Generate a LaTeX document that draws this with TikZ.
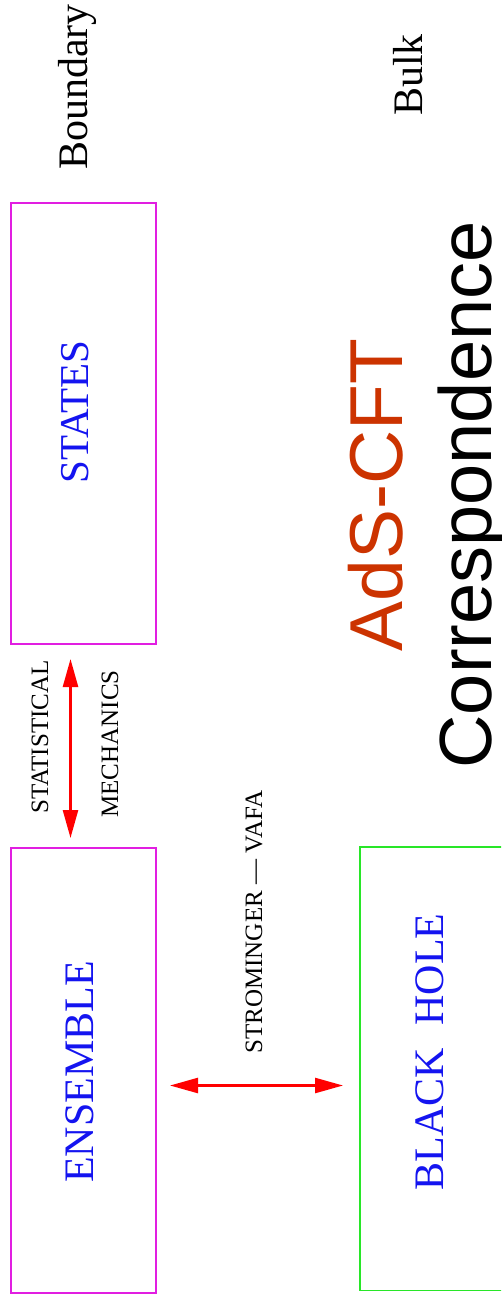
\documentclass[tikz,border=0pt]{standalone}
\usepackage{fontspec}
\setmainfont{Liberation Serif}
\newfontfamily\arialf{Liberation Sans}
\usetikzlibrary{arrows.meta}
\definecolor{boxmag}{RGB}{225,30,225}
\definecolor{boxgreen}{RGB}{40,230,40}
\definecolor{txtblue}{RGB}{20,20,240}
\definecolor{arrred}{RGB}{255,0,0}
\definecolor{adsred}{RGB}{204,51,0}
\begin{document}
\begin{tikzpicture}[x=1pt,y=-1pt,
  magbox/.style={draw=boxmag,line width=2pt,minimum width=145pt,inner sep=0pt,anchor=north west},
  lbl/.style={rotate=90,anchor=base,inner sep=0pt},
  bigserif/.style={font=\fontsize{42}{42}\selectfont},
  smallserif/.style={font=\fontsize{25}{25}\selectfont},
  bigsans/.style={font=\arialf\fontsize{75}{75}\selectfont},
  boxtext/.style={text=txtblue},
  redarrow/.style={draw=arrred,line width=2.5pt,{Triangle[length=28pt,width=15pt]}-{Triangle[length=28pt,width=15pt]}},
  greenline/.style={draw=boxgreen,line width=1.6pt}
]
\clip (0,0) rectangle (501,1303);
\fill[white] (0,0) rectangle (501,1303);

% boxes
\node[magbox,minimum height=441pt] (states) at (10,202) {};
\node[magbox,minimum height=445pt] (ensemble) at (10,847) {};
\node[inner sep=0pt,minimum width=170pt,minimum height=443pt,anchor=north west] (bh) at (360,847) {};
\draw[greenline] (bh.north east) -- (bh.north west) -- (bh.south west) -- (bh.south east);

% headings
\node[lbl,bigserif] (boundary) at (87,87) {Boundary};
\node[lbl,bigserif] (bulk) at (422,75) {Bulk};

% box labels
\node[lbl,bigserif,boxtext,font=\fontsize{41}{41}\selectfont] (statestxt) at (88,412) {STATES};
\node[lbl,bigserif,boxtext] (enstxt) at (93,1072) {ENSEMBLE};
\node[lbl,bigserif,boxtext] (bhtxt) at (443,1052) {BLACK\hspace{23pt}HOLE};

% arrow labels
\node[lbl,smallserif] (stat) at (48,737) {STATISTICAL};
\node[lbl,smallserif] (mech) at (118,744) {MECHANICS};
\node[lbl,smallserif] (sv) at (262,922) {STROMINGER — VAFA};

% title
\node[lbl,bigsans,text=adsred] (ads) at (402,495) {AdS-CFT};
\node[lbl,bigsans,font=\arialf\fontsize{74}{74}\selectfont] (corr) at (491,495) {Correspondence};

% arrows
\draw[redarrow] ([xshift=-13pt,yshift=-14pt]states.south) -- ([xshift=-13pt,yshift=9pt]ensemble.north);
\coordinate (hs) at ([xshift=13pt,yshift=-15pt]ensemble.east);
\path ([xshift=-17pt]bh.west) coordinate (bhw);
\draw[redarrow] (hs) -- (bhw |- hs);
\end{tikzpicture}
\end{document}
